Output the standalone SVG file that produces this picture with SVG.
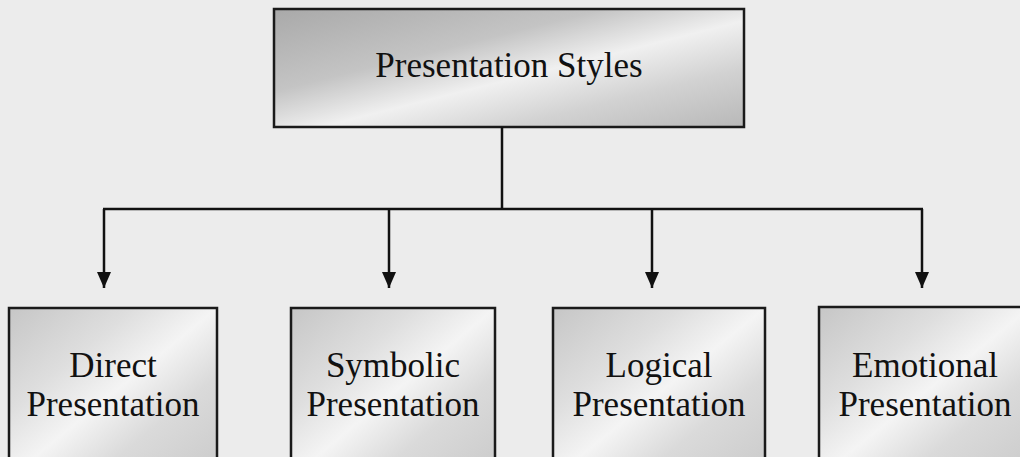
<svg xmlns="http://www.w3.org/2000/svg" width="1020" height="457" viewBox="0 0 1020 457">
<defs>
<linearGradient id="gTop" x1="0" y1="0" x2="1" y2="1">
<stop offset="0" stop-color="#a9a9a9"/>
<stop offset="0.35" stop-color="#c4c4c4"/>
<stop offset="0.55" stop-color="#f0f0f0"/>
<stop offset="0.75" stop-color="#d2d2d2"/>
<stop offset="1" stop-color="#b8b8b8"/>
</linearGradient>
<linearGradient id="gBox" x1="0" y1="0" x2="1" y2="1">
<stop offset="0" stop-color="#c6c6c6"/>
<stop offset="0.3" stop-color="#dedede"/>
<stop offset="0.5" stop-color="#f4f4f4"/>
<stop offset="0.7" stop-color="#dadada"/>
<stop offset="1" stop-color="#cacaca"/>
</linearGradient>
<marker id="arr" viewBox="0 0 16 14" refX="16" refY="7" markerWidth="16" markerHeight="14" markerUnits="userSpaceOnUse" orient="auto">
<path d="M0,0 L16,7 L0,14 Z" fill="#111"/>
</marker>
</defs>
<style>
.box{stroke:#1a1a1a;stroke-width:2.5}
.lbl{font-family:"Liberation Serif","Times New Roman",serif;font-size:35px;fill:#111;text-anchor:middle}
.ln{stroke:#111;stroke-width:2.5;fill:none}
</style>
<rect width="1020" height="457" fill="#ececec"/>
<g id="root">
<rect class="box" x="274" y="9" width="470" height="118" fill="url(#gTop)"/>
<text class="lbl" x="509" y="77">Presentation Styles</text>
</g>
<g id="connectors">
<line class="ln" x1="502" y1="127" x2="502" y2="209"/>
<line class="ln" x1="103" y1="209" x2="923" y2="209"/>
<line class="ln" x1="104" y1="209" x2="104" y2="288" marker-end="url(#arr)"/>
<line class="ln" x1="389" y1="209" x2="389" y2="288" marker-end="url(#arr)"/>
<line class="ln" x1="652" y1="209" x2="652" y2="288" marker-end="url(#arr)"/>
<line class="ln" x1="922" y1="209" x2="922" y2="288" marker-end="url(#arr)"/>
</g>
<g id="direct">
<rect class="box" x="9" y="308" width="208" height="170" fill="url(#gBox)"/>
<text class="lbl" x="113" y="377">Direct</text>
<text class="lbl" x="113" y="416">Presentation</text>
</g>
<g id="symbolic">
<rect class="box" x="291" y="308" width="204" height="170" fill="url(#gBox)"/>
<text class="lbl" x="393" y="377">Symbolic</text>
<text class="lbl" x="393" y="416">Presentation</text>
</g>
<g id="logical">
<rect class="box" x="553" y="308" width="212" height="170" fill="url(#gBox)"/>
<text class="lbl" x="659" y="377">Logical</text>
<text class="lbl" x="659" y="416">Presentation</text>
</g>
<g id="emotional">
<rect class="box" x="819" y="307" width="212" height="170" fill="url(#gBox)"/>
<text class="lbl" x="925" y="377">Emotional</text>
<text class="lbl" x="925" y="416">Presentation</text>
</g>
</svg>
